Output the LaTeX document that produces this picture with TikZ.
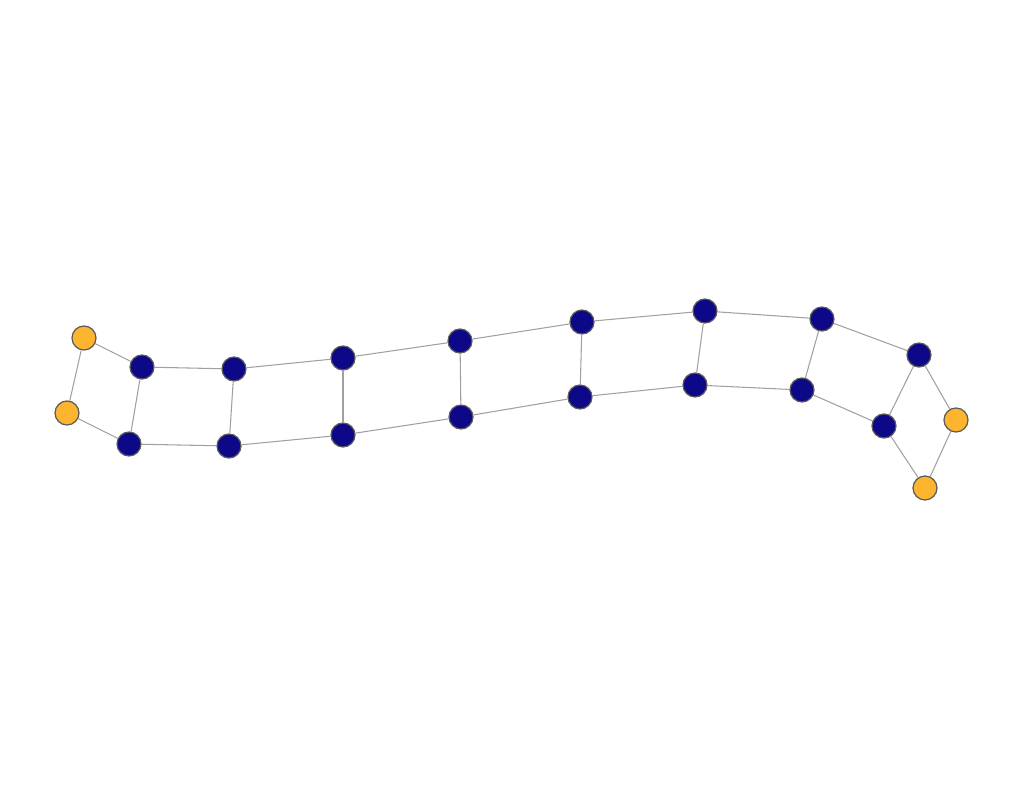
\documentclass[tikz,border=0pt]{standalone}
\usepackage{xcolor}
\usepackage{tikz}
\definecolor{navy}{HTML}{0D0887}
\definecolor{amber}{HTML}{FDB42F}
\definecolor{rim}{HTML}{5A5A5A}
\definecolor{edgegray}{HTML}{A0A0A0}
\tikzset{
  link/.style={draw=edgegray, line width=0.6pt},
  inner/.style={circle, draw=rim, fill=navy, line width=0.7pt, minimum size=0.48cm, inner sep=0pt},
  outer/.style={circle, draw=rim, fill=amber, line width=0.7pt, minimum size=0.48cm, inner sep=0pt},
}

\begin{document}
\begin{tikzpicture}[x=0.02cm, y=-0.02cm]
\useasboundingbox (0,0) rectangle (1024,800);

% top rail
\node[outer] (T0) at (84,338) {};
\node[inner] (T1) at (142,367) {};
\node[inner] (T2) at (234,369) {};
\node[inner] (T3) at (343,358) {};
\node[inner] (T4) at (460,341) {};
\node[inner] (T5) at (582,322) {};
\node[inner] (T6) at (705,311) {};
\node[inner] (T7) at (822,319) {};
\node[inner] (T8) at (919,355) {};
\node[outer] (T9) at (956,420) {};

% bottom rail
\node[outer] (B0) at (67,413) {};
\node[inner] (B1) at (129,444) {};
\node[inner] (B2) at (229,446) {};
\node[inner] (B3) at (343,435) {};
\node[inner] (B4) at (461,417) {};
\node[inner] (B5) at (580,397) {};
\node[inner] (B6) at (695,385) {};
\node[inner] (B7) at (802,390) {};
\node[inner] (B8) at (884,426) {};
\node[outer] (B9) at (925,488) {};

% rungs
\foreach \i in {0,...,9}{
  \draw[link] (T\i) -- (B\i);
}
% rails
\foreach \i/\j in {0/1,1/2,2/3,3/4,4/5,5/6,6/7,7/8,8/9}{
  \draw[link] (T\i) -- (T\j);
  \draw[link] (B\i) -- (B\j);
}
\end{tikzpicture}
\end{document}
